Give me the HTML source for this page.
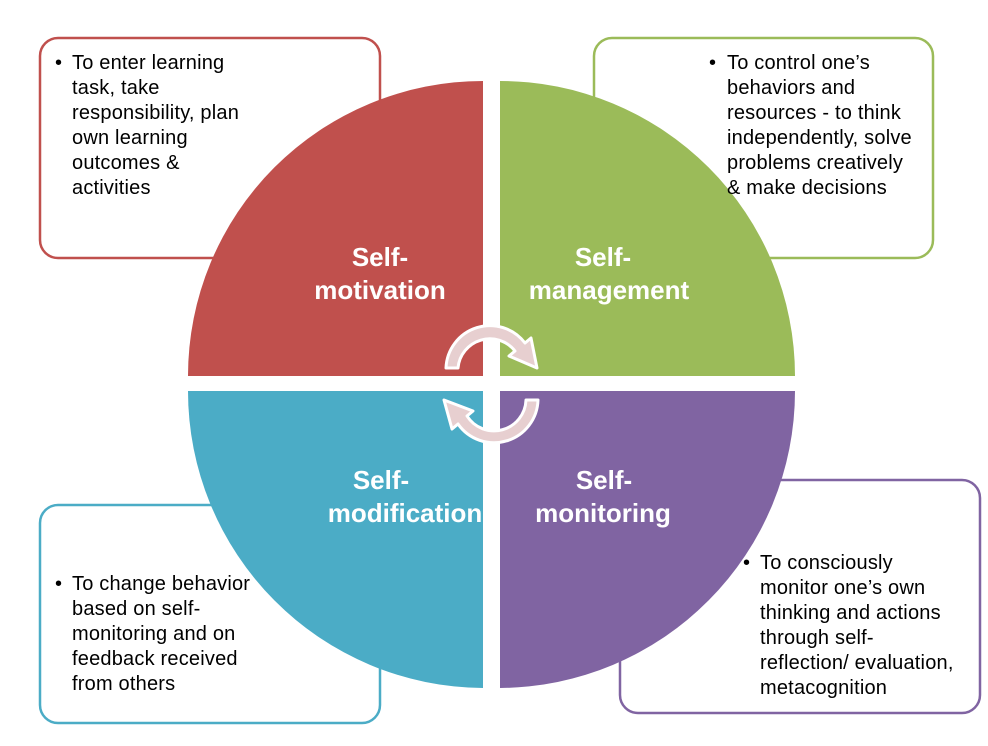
<!DOCTYPE html>
<html><head><meta charset="utf-8"><style>
html,body{margin:0;padding:0;background:#fff;}
svg{display:block;}
.t{font-family:"Liberation Sans",Arial,sans-serif;font-size:20px;letter-spacing:0.2px;fill:#000;}
.q{font-family:"Liberation Sans",Arial,sans-serif;font-size:26px;font-weight:bold;fill:#fff;}
</style></head><body>
<svg width="988" height="746" viewBox="0 0 988 746" xmlns="http://www.w3.org/2000/svg">
<rect x="40" y="38" width="340" height="220" rx="18" fill="#fff" stroke="#c0504d" stroke-width="2.5"/>
<rect x="594" y="38" width="339" height="220" rx="18" fill="#fff" stroke="#9bbb59" stroke-width="2.5"/>
<rect x="40" y="505" width="340" height="218" rx="18" fill="#fff" stroke="#4bacc6" stroke-width="2.5"/>
<rect x="620" y="480" width="360" height="233" rx="18" fill="#fff" stroke="#8064a2" stroke-width="2.5"/>

<path d="M483,376 L188,376 A295,295 0 0 1 483,81 Z" fill="#c0504d"/>
<path d="M500,376 L500,81 A295,295 0 0 1 795,376 Z" fill="#9bbb59"/>
<path d="M483,391 L483,688 A297,297 0 0 1 188,391 Z" fill="#4bacc6"/>
<path d="M500,391 L795,391 A297,297 0 0 1 500,688 Z" fill="#8064a2"/>

<g fill="#e7cfd0" stroke="#fff" stroke-width="3" stroke-linejoin="round">
<path d="M446,368 A44,44 0 0 1 525,343 L531,338 L537,368 L509,356 L515,351 A32,32 0 0 0 458,368 Z"/>
<path d="M538,400 A44,44 0 0 1 458,424 L452,429 L444,400 L473,411 L467,416 A32,32 0 0 0 526,400 Z"/>
</g>

<text class="q" text-anchor="middle"><tspan x="380" y="266">Self-</tspan><tspan x="380" y="299">motivation</tspan></text>
<text class="q" text-anchor="middle"><tspan x="603" y="266">Self-</tspan><tspan x="609" y="299">management</tspan></text>
<text class="q" text-anchor="middle"><tspan x="381" y="489">Self-</tspan><tspan x="405" y="522">modification</tspan></text>
<text class="q" text-anchor="middle"><tspan x="604" y="489">Self-</tspan><tspan x="603" y="522">monitoring</tspan></text>

<g class="t">
<text x="55" y="69">•</text>
<text><tspan x="72" y="69">To enter learning</tspan><tspan x="72" y="94">task, take</tspan><tspan x="72" y="119">responsibility, plan</tspan><tspan x="72" y="144">own learning</tspan><tspan x="72" y="169">outcomes &amp;</tspan><tspan x="72" y="194">activities</tspan></text>
<text x="709" y="69">•</text>
<text><tspan x="727" y="69">To control one’s</tspan><tspan x="727" y="94">behaviors and</tspan><tspan x="727" y="119">resources - to think</tspan><tspan x="727" y="144">independently, solve</tspan><tspan x="727" y="169">problems creatively</tspan><tspan x="727" y="194">&amp; make decisions</tspan></text>
<text x="55" y="590">•</text>
<text><tspan x="72" y="590">To change behavior</tspan><tspan x="72" y="615">based on self-</tspan><tspan x="72" y="640">monitoring and on</tspan><tspan x="72" y="665">feedback received</tspan><tspan x="72" y="690">from others</tspan></text>
<text x="743" y="569">•</text>
<text><tspan x="760" y="569">To consciously</tspan><tspan x="760" y="594">monitor one’s own</tspan><tspan x="760" y="619">thinking and actions</tspan><tspan x="760" y="644">through self-</tspan><tspan x="760" y="669">reflection/ evaluation,</tspan><tspan x="760" y="694">metacognition</tspan></text>
</g>
</svg>
</body></html>
